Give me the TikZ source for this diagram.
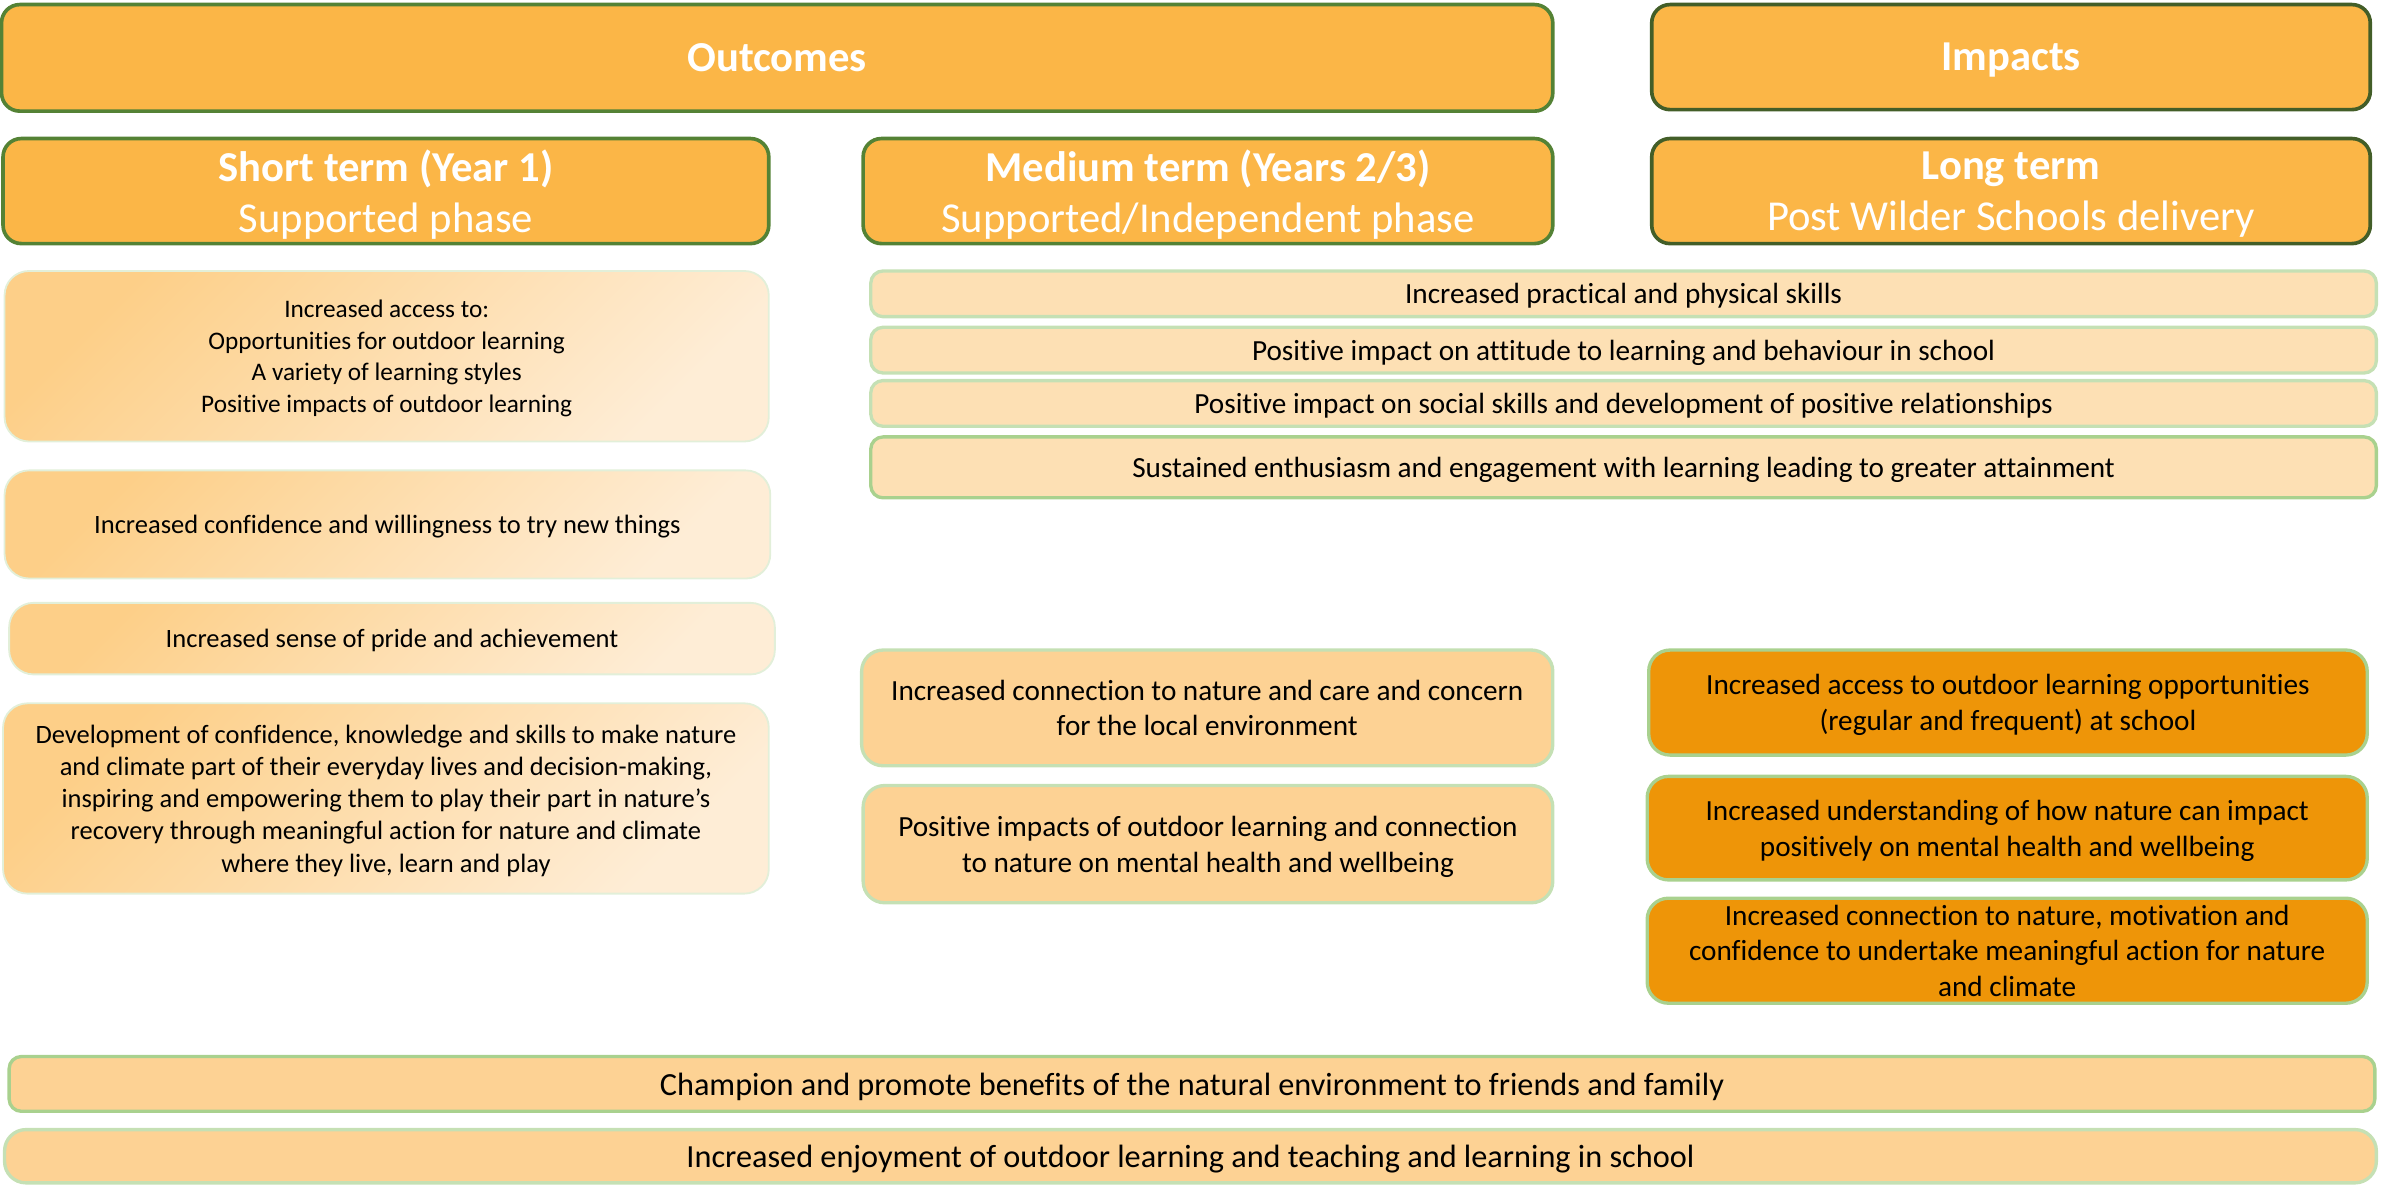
\documentclass[tikz,border=0pt]{standalone}
\usepackage{fontspec}
\setmainfont[Ligatures=NoCommon]{Carlito}
\definecolor{hdrfill}{HTML}{FBB647}
\definecolor{hdrline}{HTML}{548235}
\definecolor{hdrlinedk}{HTML}{435E28}
\definecolor{scA}{HTML}{FDCF88}
\definecolor{scB}{HTML}{FEEDD6}
\definecolor{scline}{HTML}{E2EFD9}
\definecolor{mfill}{HTML}{FDE0B4}
\definecolor{mline}{HTML}{C5E0B4}
\definecolor{mlinedk}{HTML}{A9D18E}
\definecolor{pfill}{HTML}{FDD294}
\definecolor{ofill}{HTML}{EE9508}
\newcommand\mybox[7]{%
  \node[#1, minimum width={(#5-#3)*0.5pt}, minimum height={(#6-#4)*0.5pt}]
    (#2) at ({(#3+#5)/2},{(#4+#6)/2}) {#7};}
\tikzset{
  base/.style={rectangle, rounded corners=6pt, inner sep=0pt, align=center,
    font=\fontsize{9.6}{11.7}\selectfont, text=black, text depth=0pt},
  hdr/.style={base, fill=hdrfill, draw=hdrline, line width=1.2pt, text=white,
    font=\fontsize{14}{16.5}\selectfont},
  hdrdk/.style={hdr, draw=hdrlinedk},
  grad/.style={base, draw=scline, line width=0.6pt, top color=scA, bottom color=scB,
    shading angle=45, rounded corners=8pt, font=\fontsize{8.7}{10.6}\selectfont},
  peach/.style={base, fill=mfill, draw=mline, line width=1.1pt, rounded corners=4pt},
  peachdk/.style={peach, draw=mlinedk},
  pbox/.style={base, fill=pfill, draw=mline, line width=1.1pt, rounded corners=7pt},
  pboxdk/.style={pbox, draw=mlinedk, rounded corners=4pt},
  obox/.style={base, fill=ofill, draw=mlinedk, line width=1.1pt, rounded corners=7pt},
  bottomtxt/.style={font=\fontsize{10.6}{12.5}\selectfont},
}
\begin{document}
\begin{tikzpicture}[x=0.5pt, y=-0.5pt]
\useasboundingbox (0,0) rectangle (1568,778);
% headers
\mybox{hdr}{outc}{1}{3}{1020}{73}{\textbf{Outcomes}}
\mybox{hdrdk}{imp}{1085}{3}{1557}{72}{\textbf{Impacts}}
\mybox{hdr}{short}{2}{91}{505}{160}{\textbf{Short term (Year 1)}\\Supported phase}
\mybox{hdr}{medium}{567}{91}{1020}{160}{\textbf{Medium term (Years 2/3)}\\Supported/Independent phase}
\mybox{hdrdk}{long}{1085}{91}{1557}{160}{\textbf{Long term}\\Post Wilder Schools delivery}
% short term column
\mybox{grad, font=\fontsize{8.3}{10.3}\selectfont}{s1}{3}{178}{505}{290}{Increased access to:\\Opportunities for outdoor learning\\A variety of learning styles\\Positive impacts of outdoor learning}
\mybox{grad}{s2}{3}{309}{506}{380}{Increased confidence and willingness to try new things}
\mybox{grad}{s3}{6}{396}{509}{443}{Increased sense of pride and achievement}
\mybox{grad}{s4}{2}{462}{505}{587}{Development of confidence, knowledge and skills to make nature\\and climate part of their everyday lives and decision-making,\\inspiring and empowering them to play their part in nature’s\\recovery through meaningful action for nature and climate\\where they live, learn and play}
% medium wide rows
\mybox{peach}{m1}{572}{178}{1561}{208}{Increased practical and physical skills}
\mybox{peach}{m2}{572}{215}{1561}{245}{Positive impact on attitude to learning and behaviour in school}
\mybox{peach}{m3}{572}{250}{1561}{280}{Positive impact on social skills and development of positive relationships}
\mybox{peachdk}{m4}{572}{287}{1561}{327}{Sustained enthusiasm and engagement with learning leading to greater attainment}
% medium column
\mybox{pbox}{m5}{566}{427}{1020}{503}{Increased connection to nature and care and concern\\for the local environment}
\mybox{pbox}{m6}{567}{516}{1020}{593}{Positive impacts of outdoor learning and connection\\to nature on mental health and wellbeing}
% long column
\mybox{obox}{l1}{1083}{427}{1555}{496}{Increased access to outdoor learning opportunities\\(regular and frequent) at school}
\mybox{obox}{l2}{1082}{510}{1555}{578}{Increased understanding of how nature can impact\\positively on mental health and wellbeing}
\mybox{obox}{l3}{1082}{590}{1555}{659}{Increased connection to nature, motivation and\\confidence to undertake meaningful action for nature\\and climate}
% bottom rows
\mybox{pboxdk, bottomtxt}{b1}{6}{694}{1560}{730}{Champion and promote benefits of the natural environment to friends and family}
\mybox{pbox, bottomtxt}{b2}{3}{742}{1561}{777}{Increased enjoyment of outdoor learning and teaching and learning in school}
\end{tikzpicture}
\end{document}
